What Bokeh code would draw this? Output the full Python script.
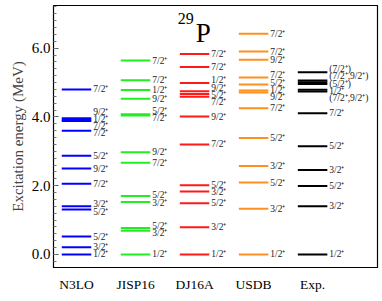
from bokeh.plotting import figure
from bokeh.models import FixedTicker, SingleIntervalTicker, PrintfTickFormatter, Label, ColumnDataSource
from bokeh.core.properties import value
from bokeh.embed import file_html
from bokeh.resources import INLINE

# ---------------- data ----------------
categories = ["N3LO", "JISP16", "DJ16A", "USDB", "Exp."]
colors = ["#0000ff", "#22ee22", "#ff1a1a", "#ff8f1f", "#000000"]

n3lo_E = [0.00, 0.21, 0.52, 1.31, 1.40, 2.06, 2.50, 2.87, 3.60, 3.88, 3.92, 3.96, 4.80]
n3lo_J = ["1/2⁺", "3/2⁺", "5/2⁺", "5/2⁺", "3/2⁺", "7/2⁺", "9/2⁺", "5/2⁺", "7/2⁺", "7/2⁺", "1/2⁺", "9/2⁺", "7/2⁺"]

jisp_E = [0.00, 0.69, 0.77, 1.53, 1.70, 2.67, 2.97, 4.04, 4.08, 4.53, 4.78, 5.07, 5.64]
jisp_J = ["1/2⁺", "3/2⁺", "5/2⁺", "3/2⁺", "5/2⁺", "7/2⁺", "9/2⁺", "7/2⁺", "5/2⁺", "9/2⁺", "1/2⁺", "7/2⁺", "7/2⁺"]

dj_E = [0.00, 0.79, 1.49, 1.83, 2.01, 3.20, 4.01, 4.59, 4.67, 4.75, 4.99, 5.45, 5.83]
dj_J = ["1/2⁺", "3/2⁺", "5/2⁺", "3/2⁺", "5/2⁺", "7/2⁺", "9/2⁺", "7/2⁺", "5/2⁺", "9/2⁺", "1/2⁺", "7/2⁺", "7/2⁺"]

usdb_E = [0.00, 1.33, 2.09, 2.57, 3.39, 4.25, 4.71, 4.77, 4.94, 5.15, 5.66, 5.90, 6.42]
usdb_J = ["1/2⁺", "3/2⁺", "5/2⁺", "3/2⁺", "5/2⁺", "7/2⁺", "9/2⁺", "1/2⁺", "5/2⁺", "7/2⁺", "9/2⁺", "7/2⁺", "7/2⁺"]

exp_E = [0.00, 1.40, 1.99, 2.46, 3.15, 4.11, 4.74, 4.79, 4.96, 5.01, 5.06, 5.30]
exp_J = ["1/2⁺", "3/2⁺", "5/2⁺", "3/2⁺", "5/2⁺", "7/2⁺", "(7/2⁺,9/2⁺)", "1/2⁺", "(5/2⁺)", "", "(7/2⁺,9/2⁺)", "(7/2⁺)"]

series_E = [n3lo_E, jisp_E, dj_E, usdb_E, exp_E]
series_J = [n3lo_J, jisp_J, dj_J, usdb_J, exp_J]

nucleus_mass = "29"
nucleus_symbol = "P"

# ---------------- helpers ----------------
HALF = 0.25      # half length of a level line (category units)
GAP = 0.21       # minimum label separation (MeV)


def spread_labels(targets, gap):
    """Place labels near their targets without overlap (block-merging)."""
    order = sorted(range(len(targets)), key=lambda i: targets[i])
    blocks = [[i] for i in order]

    def positions(block):
        c = sum(targets[i] for i in block) / len(block)
        n = len(block)
        return [c + (k - (n - 1) / 2) * gap for k in range(n)]

    changed = True
    while changed:
        changed = False
        for b in range(len(blocks) - 1):
            top = positions(blocks[b])[-1]
            bottom = positions(blocks[b + 1])[0]
            if bottom - top < gap - 1e-9:
                blocks[b] = blocks[b] + blocks[b + 1]
                del blocks[b + 1]
                changed = True
                break
    out = [0.0] * len(targets)
    for block in blocks:
        for i, pos in zip(block, positions(block)):
            out[i] = pos
    return out


p = figure(width=382, height=301, x_range=(-0.39, 5.10), y_range=(-0.378, 7.24),
           output_backend="svg", toolbar_location=None,
           min_border_left=53, min_border_right=5, min_border_top=5, min_border_bottom=34)

p.background_fill_color = "white"
p.border_fill_color = "white"
p.outline_line_color = "black"
p.outline_line_width = 1.2
p.xgrid.visible = False
p.ygrid.visible = False

serif = "Liberation Serif"

for ci, (E, J) in enumerate(zip(series_E, series_J)):
    src = ColumnDataSource(dict(x0=[ci - HALF] * len(E), x1=[ci + HALF] * len(E), y=E))
    p.segment(x0="x0", x1="x1", y0="y", y1="y", source=src,
              line_color=colors[ci], line_width=2)
    lab_idx = [i for i, j in enumerate(J) if j]
    lab_E = [E[i] for i in lab_idx]
    lab_T = [J[i] for i in lab_idx]
    lab_y = spread_labels(lab_E, GAP)
    tsrc = ColumnDataSource(dict(x=[ci + HALF] * len(lab_idx), y=lab_y, t=lab_T))
    p.text(x="x", y="y", text="t", source=tsrc, x_offset=2,
           text_align="left", text_baseline="middle",
           text_font=value(serif), text_font_size="9.5px", text_color="#222222")

# title 29P
p.add_layout(Label(x=1.985, y=7.03, text=nucleus_mass, text_align="right", text_baseline="top",
                   text_font=serif, text_font_size="16px", text_color="black"))
p.add_layout(Label(x=2.02, y=6.43, text=nucleus_symbol, text_align="left", text_baseline="alphabetic",
                   text_font=serif, text_font_size="27px", text_color="black"))

# axes
p.xaxis.ticker = FixedTicker(ticks=list(range(len(categories))))
p.xaxis.major_label_overrides = {i: c for i, c in enumerate(categories)}
p.xaxis.major_tick_in = 0
p.xaxis.major_tick_out = 0
p.xaxis.minor_tick_in = 0
p.xaxis.minor_tick_out = 0
p.xaxis.major_label_standoff = 9
p.xaxis.major_label_text_font = serif
p.xaxis.major_label_text_font_size = "13.5px"
p.xaxis.major_label_text_color = "black"
p.xaxis.axis_line_color = "black"

p.yaxis.ticker = SingleIntervalTicker(interval=2, num_minor_ticks=10)
p.yaxis.formatter = PrintfTickFormatter(format="%.1f")
p.yaxis.major_tick_in = 5
p.yaxis.major_tick_out = 0
p.yaxis.minor_tick_in = 3
p.yaxis.minor_tick_out = 0
p.yaxis.major_tick_line_color = "#555555"
p.yaxis.minor_tick_line_color = "#777777"
p.yaxis.major_label_standoff = 3
p.yaxis.major_label_text_font = serif
p.yaxis.major_label_text_font_size = "15px"
p.yaxis.major_label_text_color = "black"
p.yaxis.axis_label = "Excitation energy (MeV)"
p.yaxis.axis_label_text_font = serif
p.yaxis.axis_label_text_font_style = "normal"
p.yaxis.axis_label_text_font_size = "15px"
p.yaxis.axis_label_standoff = 3
p.yaxis.axis_line_color = "black"

open("out.html", "w").write(file_html(p, INLINE))
